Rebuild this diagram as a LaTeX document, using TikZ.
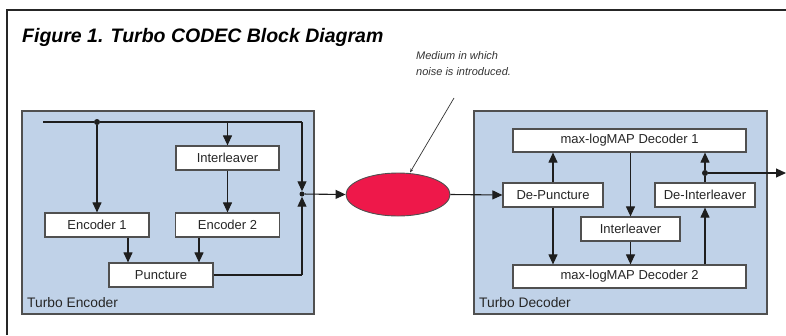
\documentclass[tikz,border=0pt]{standalone}
\usepackage{fontspec}
\setmainfont{Liberation Sans}
\usetikzlibrary{arrows.meta,shapes.geometric}
\definecolor{panelblue}{RGB}{192,210,232}
\definecolor{noisered}{RGB}{238,24,74}
\definecolor{boxgray}{RGB}{80,80,80}
\definecolor{wire}{RGB}{30,30,30}
\begin{document}
\begin{tikzpicture}[x=1pt,y=-1pt,
  panel/.style={draw=boxgray,fill=panelblue,line width=1.3pt},
  blk/.style={draw=boxgray,fill=white,line width=1.2pt,inner sep=0pt,
    font=\fontsize{13}{14}\selectfont,text=black!85},
  wirestyle/.style={draw=wire,line width=1.1pt},
  arr/.style={wirestyle,-{Triangle[length=10pt,width=9pt]}},
  dot/.style={circle,fill=wire,inner sep=0pt,minimum size=6pt},
  paneltitle/.style={anchor=base west,inner sep=0pt,font=\fontsize{13.8}{15}\selectfont,text=black!85}]
\useasboundingbox (0,0) rectangle (786,335);
% outer frame
\draw[line width=1.5pt,black!85] (7,335) -- (7,10) -- (786,10);
\node[anchor=base west,inner sep=0pt,font=\fontsize{19.5}{22}\selectfont\bfseries\itshape] (title) at (22,42) {Figure 1. Turbo CODEC Block Diagram};
% panels
\draw[panel] (22,111) rectangle (314,314);
\draw[panel] (474,111) rectangle (767,314);
\node[paneltitle] (enclbl) at (27,307) {Turbo Encoder};
\node[paneltitle] (declbl) at (479,307) {Turbo Decoder};
% encoder blocks
\node[blk,minimum width=103pt,minimum height=24pt] (intE) at (227.5,158) {Interleaver};
\node[blk,minimum width=104pt,minimum height=24pt] (enc1) at (97,225) {Encoder 1};
\node[blk,minimum width=104pt,minimum height=24pt] (enc2) at (227.5,225) {Encoder 2};
\node[blk,minimum width=104pt,minimum height=24pt] (punc) at (161,275) {Puncture};
\coordinate (in) at (43,122);
\node[dot] (d1) at (97,122) {};
\coordinate (tr) at (302,122);
\node[dot,minimum size=5pt] (J) at (302,194) {};
\coordinate (br) at (302,275);
% noise
\node[ellipse,draw=boxgray,fill=noisered,line width=0.9pt,minimum width=104pt,minimum height=43pt,inner sep=0pt] (noise) at (398,194.5) {};
\node[anchor=base west,inner sep=0pt,align=left,font=\fontsize{11}{16}\selectfont\itshape,text=black!80] (note) at (416,75) {Medium in which\\noise is introduced.};
\coordinate (noteend) at (454,98);
% decoder blocks
\node[blk,minimum width=233pt,minimum height=23pt] (dec1) at (629.5,140.5) {max-logMAP Decoder 1};
\node[blk,minimum width=100pt,minimum height=24pt] (depunc) at (553,195) {De-Puncture};
\node[blk,minimum width=100pt,minimum height=24pt] (deint) at (705,195) {De-Interleaver};
\node[blk,minimum width=99pt,minimum height=24pt] (intD) at (630.5,229) {Interleaver};
\node[blk,minimum width=233pt,minimum height=23pt] (dec2) at (629.5,276.5) {max-logMAP Decoder 2};
\node[dot] (d2) at (705,173) {};
\coordinate (out) at (786,173);
% encoder wires
\draw[wirestyle] (in) -- (d1) -- (tr);
\draw[arr] (d1) -- (enc1.north);
\draw[arr] (intE.north |- in) -- (intE.north);
\draw[arr] (intE.south) -- (enc2.north);
\draw[arr] (tr) -- (J.north);
\draw[arr] (enc1.south -| 128,0) -- (punc.north -| 128,0);
\draw[arr] (enc2.south -| 199,0) -- (punc.north -| 199,0);
\draw[wirestyle] (punc.east) -- (br);
\draw[arr] (br) -- (J.south);
\draw[arr] (J) -- (noise.west);
\draw[line width=0.7pt,black!80,-{Stealth[length=4pt,width=3pt]}] (noteend) -- (410,172.5);
% decoder wires
\draw[arr] (noise.east) -- (depunc.west);
\draw[arr] (depunc.north) -- (depunc.north |- dec1.south);
\draw[arr] (depunc.south) -- (depunc.south |- dec2.north);
\draw[arr] (intD.north |- dec1.south) -- (intD.north);
\draw[arr] (intD.south) -- (intD.south |- dec2.north);
\draw[arr] (deint.south |- dec2.north) -- (deint.south);
\draw[wirestyle] (deint.north) -- (d2);
\draw[arr] (d2) -- (d2 |- dec1.south);
\draw[arr] (d2) -- (out);
\end{tikzpicture}
\end{document}
